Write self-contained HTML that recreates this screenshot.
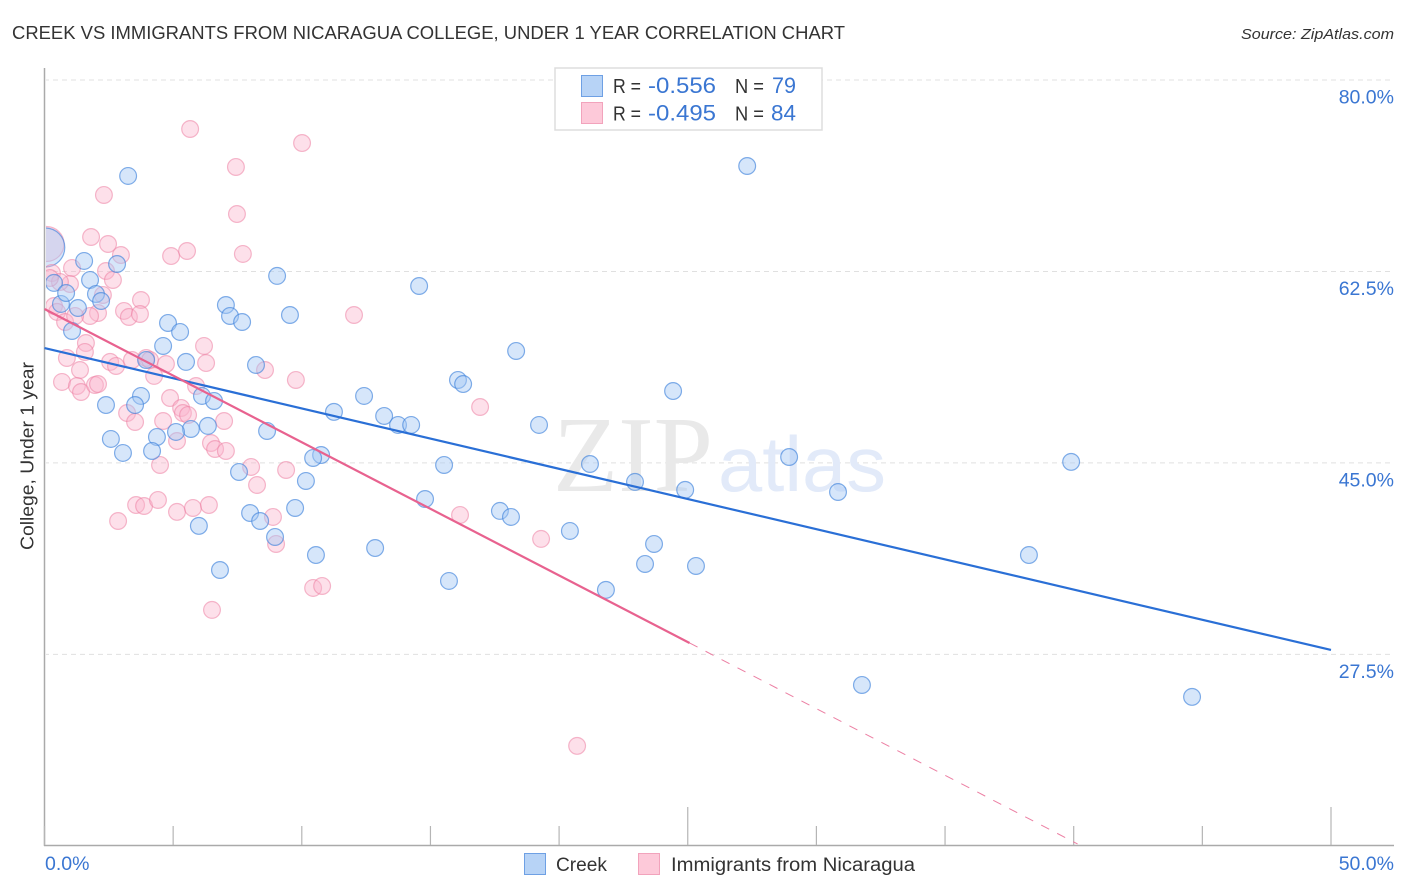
<!DOCTYPE html>
<html lang="en">
<head>
<meta charset="utf-8">
<title>Creek vs Immigrants from Nicaragua College, Under 1 Year Correlation Chart</title>
<style>
html,body{margin:0;padding:0;background:#fff;}
body{width:1406px;height:892px;overflow:hidden;font-family:"Liberation Sans",sans-serif;}
svg{display:block;}
text{font-family:"Liberation Sans",sans-serif;}
</style>
</head>
<body>
<svg id="chart" width="1406" height="892" viewBox="0 0 1406 892" xmlns="http://www.w3.org/2000/svg">
  <defs>
    <clipPath id="plot-clip"><rect x="46" y="60" width="1350" height="785"></rect></clipPath>
  </defs>
  <rect x="0" y="0" width="1406" height="892" fill="#ffffff"></rect>
  <text x="12" y="39" font-size="18.5" fill="#333333" textLength="833" lengthAdjust="spacingAndGlyphs">CREEK VS IMMIGRANTS FROM NICARAGUA COLLEGE, UNDER 1 YEAR CORRELATION CHART</text>
  <text x="1241" y="39" font-size="15" font-style="italic" fill="#333333" textLength="153" lengthAdjust="spacingAndGlyphs">Source: ZipAtlas.com</text>

  <g id="grid"></g>

  <g>
    <text x="553" y="491" font-size="108" style="font-family:'Liberation Serif',serif" fill="#e9e9e9" textLength="160" lengthAdjust="spacingAndGlyphs">ZIP</text>
    <text x="718" y="491" font-size="78" fill="#e2eaf9" textLength="168" lengthAdjust="spacingAndGlyphs">atlas</text>
  </g>

  <g id="points" clip-path="url(#plot-clip)"></g>
  <rect x="0" y="60" width="46" height="785" fill="#ffffff"></rect>
  <g id="axes"></g>
  <g id="trends"></g>
  <g id="labels"></g>

  <text transform="translate(33.5,456) rotate(-90)" text-anchor="middle" font-size="18" fill="#333333" textLength="188" lengthAdjust="spacingAndGlyphs">College, Under 1 year</text>

  <g>
    <rect x="555" y="68" width="267" height="62" fill="#ffffff" stroke="#dddddd" stroke-width="1.5"></rect>
    <rect x="581.5" y="75.5" width="21" height="21" fill="#b7d3f6" stroke="#6ea0e4" stroke-width="1"></rect>
    <rect x="581.5" y="102.5" width="21" height="21" fill="#fdc9d9" stroke="#f2a3bc" stroke-width="1"></rect>
    <text x="613" y="93" font-size="20" fill="#333333" textLength="28" lengthAdjust="spacingAndGlyphs">R =</text>
    <text x="648" y="93" font-size="22" fill="#3a76d2" textLength="68" lengthAdjust="spacingAndGlyphs">-0.556</text>
    <text x="735" y="93" font-size="20" fill="#333333" textLength="29" lengthAdjust="spacingAndGlyphs">N =</text>
    <text x="772" y="93" font-size="22" fill="#3a76d2" textLength="24" lengthAdjust="spacingAndGlyphs">79</text>
    <text x="613" y="120.5" font-size="20" fill="#333333" textLength="28" lengthAdjust="spacingAndGlyphs">R =</text>
    <text x="648" y="120.5" font-size="22" fill="#3a76d2" textLength="68" lengthAdjust="spacingAndGlyphs">-0.495</text>
    <text x="735" y="120.5" font-size="20" fill="#333333" textLength="29" lengthAdjust="spacingAndGlyphs">N =</text>
    <text x="771" y="120.5" font-size="22" fill="#3a76d2" textLength="25" lengthAdjust="spacingAndGlyphs">84</text>
  </g>

  <g>
    <rect x="524.5" y="853.5" width="21" height="21" fill="#b7d3f6" stroke="#6ea0e4" stroke-width="1"></rect>
    <text x="556" y="871" font-size="19" fill="#333333" textLength="51" lengthAdjust="spacingAndGlyphs">Creek</text>
    <rect x="638.5" y="853.5" width="21" height="21" fill="#fdc9d9" stroke="#f2a3bc" stroke-width="1"></rect>
    <text x="671" y="871" font-size="19" fill="#333333" textLength="244" lengthAdjust="spacingAndGlyphs">Immigrants from Nicaragua</text>
  </g>
</svg>

<script>
var yTickValues = [80, 62.5, 45, 27.5];
var yTickLabels = ["80.0%", "62.5%", "45.0%", "27.5%"];
var xTickValues = [0, 5, 10, 15, 20, 25, 30, 35, 40, 45, 50];
var xMajorTicks = [25, 50];
var xEndLabels = ["0.0%", "50.0%"];

var creekX = [3.25,27.31,1.54,2.82,1.77,9.04,0.37,2.00,2.20,0.64,1.30,1.07,14.56,7.05,7.21,7.68,9.54,4.80,5.27,4.61,5.50,3.95,8.22,18.33,16.07,16.27,12.42,11.25,13.20,13.74,14.25,19.22,3.75,3.52,2.39,6.12,6.59,24.43,6.35,5.69,5.11,4.37,2.58,8.65,4.18,3.05,10.75,10.44,28.94,39.90,15.53,21.20,7.56,10.16,22.95,24.90,30.84,14.79,9.74,7.99,8.38,17.70,18.13,6.00,20.42,8.96,23.69,10.55,12.85,38.26,23.34,25.32,6.82,15.72,21.82,31.77,44.60,0.84];
var creekY = [71.23,72.14,63.46,63.18,61.72,62.09,61.45,60.44,59.80,59.53,59.16,57.06,61.17,59.43,58.43,57.88,58.52,57.79,56.97,55.69,54.23,54.41,53.95,55.23,52.58,52.21,51.12,49.66,49.29,48.47,48.47,48.47,51.12,50.29,50.29,51.12,50.66,51.57,48.38,48.10,47.83,47.37,47.19,47.92,46.09,45.91,45.72,45.45,45.54,45.09,44.81,44.90,44.17,43.35,43.26,42.53,42.34,41.70,40.88,40.42,39.69,40.61,40.06,39.24,38.78,38.23,37.59,36.58,37.22,36.58,35.76,35.58,35.21,34.21,33.39,24.70,23.61,60.53];
var creekPooledX = [0.03];
var creekPooledY = [64.69];

var nicaraguaX = [5.66,10.01,7.44,7.48,2.31,1.81,2.47,2.97,4.92,5.54,7.71,2.39,1.07,2.66,0.99,0.29,0.60,2.27,3.75,3.09,3.28,3.71,2.08,1.77,0.37,0.49,0.80,1.19,0.21,12.03,6.20,1.61,1.57,0.87,2.55,2.78,3.40,3.95,4.10,4.72,6.28,1.38,4.26,0.68,1.26,1.42,1.96,2.08,8.57,9.77,5.89,4.88,5.31,5.38,5.58,3.21,3.52,4.61,6.98,5.15,6.47,6.63,7.05,4.49,8.03,9.39,8.26,3.56,3.87,4.41,5.15,5.77,6.39,2.86,8.88,9.00,10.44,10.79,6.51,16.93,16.15,19.30,20.70];
var nicaraguaY = [75.52,74.24,72.05,67.75,69.49,65.65,65.01,64.00,63.91,64.37,64.10,62.54,62.82,61.72,61.35,62.36,61.54,60.35,59.89,58.89,58.34,58.61,58.70,58.43,59.34,58.80,57.88,58.43,61.90,58.52,55.69,55.96,55.14,54.59,54.23,53.86,54.41,54.59,54.41,54.04,54.13,53.49,52.95,52.40,52.03,51.48,52.12,52.21,53.49,52.58,52.03,50.93,50.02,49.56,49.38,49.56,48.74,48.83,48.83,47.00,46.82,46.27,46.09,44.81,44.63,44.35,42.98,41.15,41.06,41.61,40.52,40.88,41.15,39.69,40.06,37.59,33.57,33.75,31.56,50.11,40.24,38.05,19.13];
var nicaraguaPooledX = [0.08];
var nicaraguaPooledY = [65.01];

var creekTrendX = [0, 50];
var creekTrendY = [55.5, 27.9];
var nicaraguaTrendX = [0, 25.07];
var nicaraguaTrendY = [59.07, 28.54];
var nicaraguaExtensionX = [25.07, 40.15];
var nicaraguaExtensionY = [28.54, 10.17];

var SVG_NS = "http://www.w3.org/2000/svg";
function xScale(v) { return 44.5 + v * 25.73; }
function yScale(v) { return 80 + (80 - v) * 10.94; }
function make(tag, attrs, parent) {
  var el = document.createElementNS(SVG_NS, tag);
  for (var k in attrs) { el.setAttribute(k, attrs[k]); }
  parent.appendChild(el);
  return el;
}

var gridGroup = document.getElementById("grid");
var axesGroup = document.getElementById("axes");
var pointsGroup = document.getElementById("points");
var trendsGroup = document.getElementById("trends");
var labelsGroup = document.getElementById("labels");

yTickValues.forEach(function (v, i) {
  var line = make("line", {x1: 44, x2: 1394, y1: yScale(v), y2: yScale(v), stroke: "#e0e0e0", "stroke-width": 1, "stroke-dasharray": "5 4"}, gridGroup);
  
  
  var label = make("text", {x: 1394, y: yScale(v) + 23.6, "text-anchor": "end", "font-size": 19.5, fill: "#3a76d2"}, labelsGroup);
  
  
  label.textContent = yTickLabels[i];
});

var yAxisLine = make("line", {x1: 44.5, x2: 44.5, y1: 68, y2: 846, stroke: "#aaaaaa", "stroke-width": 1.5}, axesGroup);


var xAxisLine = make("line", {x1: 44, x2: 1394, y1: 845.5, y2: 845.5, stroke: "#aaaaaa", "stroke-width": 1.5}, axesGroup);



xTickValues.forEach(function (v) {
  var top = xMajorTicks.indexOf(v) >= 0 ? 807 : 826;
  var tick = make("line", {x1: xScale(v), x2: xScale(v), y1: top, y2: 845, stroke: "#b5b5b5", "stroke-width": 1.2}, axesGroup);
  
  
});

var xLabelStart = make("text", {x: 45, y: 870, "font-size": 19.5, fill: "#3a76d2"}, labelsGroup);


xLabelStart.textContent = xEndLabels[0];
var xLabelEnd = make("text", {x: 1394, y: 870, "text-anchor": "end", "font-size": 19.5, fill: "#3a76d2"}, labelsGroup);


xLabelEnd.textContent = xEndLabels[1];

var nicaraguaPoint = {fill: "#fbb6cc", "fill-opacity": 0.42, stroke: "#ec7fa3", "stroke-opacity": 0.55, "stroke-width": 1.2};
var creekPoint = {fill: "#a5c8f3", "fill-opacity": 0.45, stroke: "#3f82dc", "stroke-opacity": 0.65, "stroke-width": 1.2};

function drawPoints(xs, ys, r, style, name) {
  xs.forEach(function (v, i) {
    var attrs = {cx: xScale(v), cy: yScale(ys[i]), r: r};
    for (var k in style) { attrs[k] = style[k]; }
    var c = make("circle", attrs, pointsGroup);
    
    
  });
}
drawPoints(nicaraguaPooledX, nicaraguaPooledY, 17.5, nicaraguaPoint, 'nicaragua-pooled-point');
drawPoints(creekPooledX, creekPooledY, 19.5, creekPoint, 'creek-pooled-point');
drawPoints(nicaraguaX, nicaraguaY, 8.4, nicaraguaPoint, 'nicaragua-point');
drawPoints(creekX, creekY, 8.4, creekPoint, 'creek-point');

var creekTrend = make("line", {x1: xScale(creekTrendX[0]), y1: yScale(creekTrendY[0]), x2: xScale(creekTrendX[1]), y2: yScale(creekTrendY[1]), stroke: "#2a6fd6", "stroke-width": 2.2}, trendsGroup);


var nicaraguaTrend = make("line", {x1: xScale(nicaraguaTrendX[0]), y1: yScale(nicaraguaTrendY[0]), x2: xScale(nicaraguaTrendX[1]), y2: yScale(nicaraguaTrendY[1]), stroke: "#e8628f", "stroke-width": 2.2}, trendsGroup);


var nicaraguaExtension = make("line", {x1: xScale(nicaraguaExtensionX[0]), y1: yScale(nicaraguaExtensionY[0]), x2: xScale(nicaraguaExtensionX[1]), y2: yScale(nicaraguaExtensionY[1]), stroke: "#ec7fa3", "stroke-width": 1, "stroke-dasharray": "9 9"}, trendsGroup);


</script>
</body>
</html>
